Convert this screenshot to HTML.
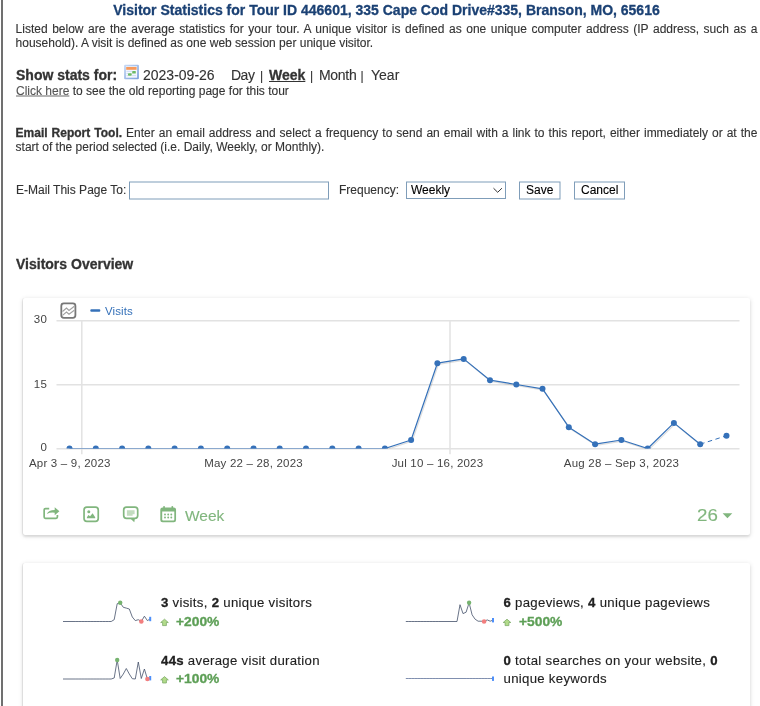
<!DOCTYPE html>
<html><head><meta charset="utf-8">
<style>
html,body{margin:0;padding:0;background:#fff;}
body{width:760px;height:706px;overflow:hidden;position:relative;font-family:"Liberation Sans",sans-serif;color:#333;-webkit-text-stroke:0.12px currentColor;}
#lb{position:absolute;left:1px;top:0;width:2px;height:706px;background:#707070;}
.abs{position:absolute;white-space:nowrap;}
#title{left:16px;width:741px;top:2px;text-align:center;font-size:14px;font-weight:bold;color:#1b4174;}
.p{position:absolute;left:15.6px;width:741.8px;font-size:12px;line-height:14px;text-align:justify;color:#333;}
.card{position:absolute;left:23px;width:727px;background:#fff;border-radius:2px;box-shadow:0 2px 2px 0 rgba(0,0,0,.08),0 1px 5px 0 rgba(0,0,0,.14),-1px 0 0 0 rgba(0,0,0,.05);}
#card1{top:298px;height:237px;}
#card2{top:563px;height:200px;}
.f14{font-size:14px;top:67px;}
.pipe{font-size:12px;top:69px;}
.f12{font-size:12px;}
.ax{font-size:11.5px;letter-spacing:.2px;fill:#444;font-family:"Liberation Sans",sans-serif;}
.st{font-size:13.2px;color:#212121;letter-spacing:.3px;}
.pc{font-size:12px;font-weight:bold;color:#5d9f56;transform:scaleX(1.15);transform-origin:0 0;}
svg{position:absolute;left:0;top:0;}
b,#title,.bd,.pc{-webkit-text-stroke:0.3px currentColor;}
</style></head><body>
<div id="lb"></div>
<div id="title" class="abs">Visitor Statistics for Tour ID 446601, 335 Cape Cod Drive#335, Branson, MO, 65616</div>
<div class="p" style="top:22px">Listed below are the average statistics for your tour. A unique visitor is defined as one unique computer address (IP address, such as a household). A visit is defined as one web session per unique visitor.</div>
<div class="abs f14" style="left:16px;"><b>Show stats for:</b></div>
<div class="abs f14" style="left:143px;">2023-09-26</div>
<div class="abs f14" style="left:231px;letter-spacing:-.5px;">Day</div>
<div class="abs pipe" style="left:260px;">|</div>
<div class="abs f14" style="left:269px;"><b><u>Week</u></b></div>
<div class="abs pipe" style="left:310px;">|</div>
<div class="abs f14" style="left:319px;letter-spacing:-.3px;">Month</div>
<div class="abs pipe" style="left:360.4px;">|</div>
<div class="abs f14" style="left:371px;">Year</div>
<div class="abs f12" style="left:16px;top:84px;"><span style="color:#555;text-decoration:underline;text-decoration-color:#b4b4b4;text-underline-offset:-0.4px;text-decoration-thickness:1.6px">Click here</span> to see the old reporting page for this tour</div>
<div class="p" style="top:126px"><b>Email Report Tool.</b> Enter an email address and select a frequency to send an email with a link to this report, either immediately or at the start of the period selected (i.e. Daily, Weekly, or Monthly).</div>
<div class="abs f12" style="left:16px;top:183px;">E-Mail This Page To:</div>
<div class="abs f12" style="left:339px;top:183px;">Frequency:</div>
<div class="abs f12" style="left:411px;top:183px;color:#000;">Weekly</div>
<div class="abs f12" style="left:526px;top:183px;color:#000;">Save</div>
<div class="abs f12" style="left:581px;top:183px;color:#000;">Cancel</div>
<div class="abs bd" style="left:16px;top:256px;font-size:14px;font-weight:bold;">Visitors Overview</div>
<div id="card1" class="card"></div>
<div id="card2" class="card"></div>
<svg width="760" height="706" viewBox="0 0 760 706">
<!-- form borders -->
<g fill="none" stroke="#7f9db9" stroke-width="1">
<rect x="129.5" y="182" width="199" height="17"/>
<rect x="406.5" y="182" width="99" height="16.5"/>
<rect x="519.5" y="182" width="40.5" height="17"/>
<rect x="574.5" y="182" width="50" height="17"/>
</g>
<path d="M493.5,188.2 L497.7,192.3 L501.9,188.2" fill="none" stroke="#333" stroke-width="1"/>
<!-- small calendar icon -->
<g>
<defs><linearGradient id="ig" x1="0" y1="0" x2="1" y2="1"><stop offset="0" stop-color="#c9dbf6"/><stop offset="1" stop-color="#7a9fdb"/></linearGradient></defs>
<rect x="124.1" y="64.8" width="14.8" height="14.5" rx="1" fill="url(#ig)"/>
<rect x="125.9" y="66.3" width="11.2" height="11.4" fill="#f4f7fd"/>
<rect x="126.2" y="67" width="10.4" height="2.8" fill="#f79a5c"/>
<path d="M126.5,71.4 H132 M126.5,73.5 H128 M126.5,75.6 H128 M132,75.6 H136" stroke="#c6d6f2" stroke-width=".8" fill="none"/>
<rect x="132.2" y="71" width="3.6" height="2.5" rx=".6" fill="#6dba66"/>
<rect x="128" y="73.2" width="3.7" height="2.5" rx=".6" fill="#6dba66"/>
</g>
<!-- chart -->
<g stroke="#e2e2e2" stroke-width="1.5" fill="none">
<path d="M56.5,320.7 H739.5 M56.5,384.7 H739.5 M56.5,448.7 H739.5"/>
<path d="M81.8,320 V454.3 M450,320 V454.3"/>
</g>
<g class="ax">
<text x="47" y="323" text-anchor="end">30</text>
<text x="47" y="387.5" text-anchor="end">15</text>
<text x="47" y="451" text-anchor="end">0</text>
<text x="69.8" y="466.5" text-anchor="middle">Apr 3 – 9, 2023</text>
<text x="253.5" y="466.5" text-anchor="middle">May 22 – 28, 2023</text>
<text x="437.5" y="466.5" text-anchor="middle">Jul 10 – 16, 2023</text>
<text x="621.5" y="466.5" text-anchor="middle">Aug 28 – Sep 3, 2023</text>
</g>
<clipPath id="cp"><rect x="56" y="300" width="690" height="148.6"/></clipPath>
<g clip-path="url(#cp)">
<polyline points="69.5,448.5 95.8,448.5 122.1,448.5 148.3,448.5 174.6,448.5 200.9,448.5 227.2,448.5 253.5,448.5 279.7,448.5 306.0,448.5 332.3,448.5 358.6,448.5 384.9,448.5 411.1,440.0 437.4,363.2 463.7,358.9 490.0,380.2 516.3,384.5 542.5,388.8 568.8,427.2 595.1,444.2 621.4,440.0 647.7,448.5 673.9,422.9 700.2,444.2" fill="none" stroke="rgba(0,0,0,.13)" stroke-width="1.3" stroke-linejoin="round" transform="translate(1,1.2)"/>
<polyline points="69.5,448.5 95.8,448.5 122.1,448.5 148.3,448.5 174.6,448.5 200.9,448.5 227.2,448.5 253.5,448.5 279.7,448.5 306.0,448.5 332.3,448.5 358.6,448.5 384.9,448.5 411.1,440.0 437.4,363.2 463.7,358.9 490.0,380.2 516.3,384.5 542.5,388.8 568.8,427.2 595.1,444.2 621.4,440.0 647.7,448.5 673.9,422.9 700.2,444.2" fill="none" stroke="#3571b9" stroke-width="1.2" stroke-linejoin="round"/>
<path d="M700.2,444.2 L726.5,435.7" fill="none" stroke="#3571b9" stroke-width="1" stroke-dasharray="4.5,3.5"/>
<g fill="#3571b9"><circle cx="69.5" cy="448.5" r="3"/><circle cx="95.8" cy="448.5" r="3"/><circle cx="122.1" cy="448.5" r="3"/><circle cx="148.3" cy="448.5" r="3"/><circle cx="174.6" cy="448.5" r="3"/><circle cx="200.9" cy="448.5" r="3"/><circle cx="227.2" cy="448.5" r="3"/><circle cx="253.5" cy="448.5" r="3"/><circle cx="279.7" cy="448.5" r="3"/><circle cx="306.0" cy="448.5" r="3"/><circle cx="332.3" cy="448.5" r="3"/><circle cx="358.6" cy="448.5" r="3"/><circle cx="384.9" cy="448.5" r="3"/><circle cx="411.1" cy="440.0" r="3"/><circle cx="437.4" cy="363.2" r="3"/><circle cx="463.7" cy="358.9" r="3"/><circle cx="490.0" cy="380.2" r="3"/><circle cx="516.3" cy="384.5" r="3"/><circle cx="542.5" cy="388.8" r="3"/><circle cx="568.8" cy="427.2" r="3"/><circle cx="595.1" cy="444.2" r="3"/><circle cx="621.4" cy="440.0" r="3"/><circle cx="647.7" cy="448.5" r="3"/><circle cx="673.9" cy="422.9" r="3"/><circle cx="700.2" cy="444.2" r="3"/><circle cx="726.5" cy="435.7" r="3"/></g>
</g>
<!-- legend -->
<rect x="90.3" y="309.3" width="10" height="2.5" rx="1" fill="#3571b9"/>
<text x="105" y="314.5" style="font-size:11.5px;letter-spacing:.1px;fill:#3571b9;font-family:'Liberation Sans',sans-serif">Visits</text>
<!-- chart icon -->
<g fill="none" stroke="#777" stroke-width="1.8">
<rect x="61.3" y="303.4" width="14.1" height="14.4" rx="2.5"/>
<path d="M62.5,311.5 L66.5,308 L69,310.5 L74.3,306.3 M62.5,315.3 L66.5,312 L69,314.2 L74.3,310.3" stroke-width="1.1" stroke="#a0a0a0"/>
</g>
<!-- footer icons -->
<g fill="none" stroke="#81b67e" stroke-width="1.7" stroke-linejoin="round">
<path d="M49.2,508.7 H45.4 Q44.15,508.7 44.15,510 V517.1 Q44.15,518.35 45.4,518.35 H56.1 Q57.4,518.35 57.4,517.1 V515.1" stroke-linecap="butt"/>
<rect x="84.05" y="507.15" width="14.2" height="14.2" rx="2.8"/>
<rect x="123.7" y="507.2" width="14" height="11.1" rx="2.8"/>
</g>
<g fill="#81b67e">
<path d="M54.7,507.2 L59.4,511.3 L54.7,515.2 V512.7 Q50.3,512.1 46.8,514 Q48.5,510 54.7,509.9 Z"/>
<circle cx="88.8" cy="511.8" r="1.5"/>
<path d="M86.9,518.3 V517.3 L88.4,514.9 L90.1,516.2 L92.6,513.2 L95.2,517.2 V518.3 Z"/>
<path d="M126.9,510.2 H134.6 V514.2 H132.6 V515.7 H126.9 Z" fill="#c2dcbf"/>
<path d="M130.3,518.6 L134.3,522.3 L134.9,518.6 Z"/>
<path d="M162.6,507.5 H173.8 Q176.05,507.5 176.05,509.8 V519.9 Q176.05,522.2 173.8,522.2 H162.6 Q160.3,522.2 160.3,519.9 V509.8 Q160.3,507.5 162.6,507.5 Z M162.2,511.5 V519.6 Q162.2,520.5 163.1,520.5 H173.4 Q174.3,520.5 174.3,519.6 V511.5 Z" fill-rule="evenodd"/>
<rect x="163.2" y="506" width="1.7" height="2.5" rx=".8"/>
<rect x="171.45" y="506" width="1.7" height="2.5" rx=".8"/>
<g>
<circle cx="165" cy="514.5" r=".95"/><circle cx="168.2" cy="514.5" r=".95"/><circle cx="171.3" cy="514.5" r=".95"/>
<circle cx="165" cy="517.5" r=".95"/><circle cx="168.2" cy="517.5" r=".95"/><circle cx="171.3" cy="517.5" r=".95"/>
</g>
<path d="M722.6,513.2 H732.3 L727.45,518.2 Z"/>
</g>
<!-- sparklines -->
<path d="M63.0,621.5 L66.0,621.5 L69.0,621.5 L72.0,621.5 L75.1,621.5 L78.1,621.5 L81.1,621.5 L84.1,621.5 L87.1,621.5 L90.1,621.5 L93.1,621.5 L96.1,621.5 L99.2,621.5 L102.2,621.5 L105.2,621.5 L108.2,621.5 L111.2,621.5 L114.2,619.7 L117.2,603.7 L120.2,602.8 L123.3,607.3 L126.3,608.1 L129.3,609.0 L132.3,617.0 L135.3,620.6 L138.3,619.7 L141.3,621.5 L144.4,616.2 L147.4,620.6 L150.4,618.8" fill="none" stroke="#44506a" stroke-width="0.8" stroke-linejoin="round"/><rect x="149.2" y="616.8" width="2" height="4.4" fill="#4d8ffa"/><circle cx="141.3" cy="621.5" r="2.3" fill="#f27e7e"/><circle cx="120.2" cy="602.8" r="2.2" fill="#76b36f"/><path d="M63.0,679.0 L66.0,679.0 L69.0,679.0 L72.0,679.0 L75.1,679.0 L78.1,679.0 L81.1,679.0 L84.1,679.0 L87.1,679.0 L90.1,679.0 L93.1,679.0 L96.1,679.0 L99.2,679.0 L102.2,679.0 L105.2,679.0 L108.2,679.0 L111.2,679.0 L114.2,678.0 L117.2,660.0 L120.2,678.5 L123.3,674.0 L126.3,668.5 L129.3,674.0 L132.3,678.7 L135.3,679.0 L138.3,662.0 L141.3,678.5 L144.4,669.0 L147.4,679.0 L150.4,678.0" fill="none" stroke="#44506a" stroke-width="0.8" stroke-linejoin="round"/><rect x="149.2" y="676.0" width="2" height="4.4" fill="#4d8ffa"/><circle cx="147.4" cy="679.0" r="2.3" fill="#f27e7e"/><circle cx="117.2" cy="660.0" r="2.2" fill="#76b36f"/><path d="M405.8,621.5 L408.8,621.5 L411.8,621.5 L414.8,621.5 L417.9,621.5 L420.9,621.5 L423.9,621.5 L426.9,621.5 L429.9,621.5 L432.9,621.5 L435.9,621.5 L438.9,621.5 L442.0,621.5 L445.0,621.5 L448.0,621.5 L451.0,621.5 L454.0,621.5 L457.0,621.5 L460.0,604.7 L463.0,613.6 L466.1,612.2 L469.1,602.8 L472.1,614.8 L475.1,619.2 L478.1,621.2 L481.1,621.2 L484.1,621.5 L487.2,619.9 L490.2,621.2 L493.2,620.0" fill="none" stroke="#44506a" stroke-width="0.8" stroke-linejoin="round"/><rect x="492.0" y="618.0" width="2" height="4.4" fill="#4d8ffa"/><circle cx="484.1" cy="621.5" r="2.3" fill="#f27e7e"/><circle cx="469.1" cy="602.8" r="2.2" fill="#76b36f"/><path d="M405.8,678.5 L408.8,678.5 L411.8,678.5 L414.8,678.5 L417.9,678.5 L420.9,678.5 L423.9,678.5 L426.9,678.5 L429.9,678.5 L432.9,678.5 L435.9,678.5 L438.9,678.5 L442.0,678.5 L445.0,678.5 L448.0,678.5 L451.0,678.5 L454.0,678.5 L457.0,678.5 L460.0,678.5 L463.0,678.5 L466.1,678.5 L469.1,678.5 L472.1,678.5 L475.1,678.5 L478.1,678.5 L481.1,678.5 L484.1,678.5 L487.2,678.5 L490.2,678.5 L493.2,678.5" fill="none" stroke="#5f729b" stroke-width="0.8" stroke-linejoin="round"/><rect x="492.0" y="676.5" width="2" height="4.4" fill="#4d8ffa"/>
<!-- up arrows -->
<g fill="#b2db8a" stroke="#7dab68" stroke-width=".8" stroke-linejoin="round">
<path d="M164.5,619.2 L168.3,622.5 H166.4 V625.6 H162.6 V622.5 H160.7 Z"/>
<path d="M164.5,619.2 L168.3,622.5 H166.4 V625.6 H162.6 V622.5 H160.7 Z" transform="translate(0,57.4)"/>
<path d="M164.5,619.2 L168.3,622.5 H166.4 V625.6 H162.6 V622.5 H160.7 Z" transform="translate(342.5,0)"/>
</g>
</svg>
<div class="abs" style="left:185px;top:507px;font-size:15.5px;color:#81b67e;">Week</div>
<div class="abs" style="left:697.3px;top:507px;font-size:16px;color:#81b67e;transform:scaleX(1.17);transform-origin:0 0;">26</div>
<div class="abs st" style="left:161px;top:595px;"><b>3</b> visits, <b>2</b> unique visitors</div>
<div class="abs pc" style="left:176px;top:615px;">+200%</div>
<div class="abs st" style="left:161px;top:653px;"><b>44s</b> average visit duration</div>
<div class="abs pc" style="left:176px;top:671.5px;">+100%</div>
<div class="abs st" style="left:503.5px;top:595px;"><b>6</b> pageviews, <b>4</b> unique pageviews</div>
<div class="abs pc" style="left:519px;top:615px;">+500%</div>
<div class="abs st" style="left:503.5px;top:652px;line-height:17.6px;"><b>0</b> total searches on your website, <b>0</b><br>unique keywords</div>
</body></html>
